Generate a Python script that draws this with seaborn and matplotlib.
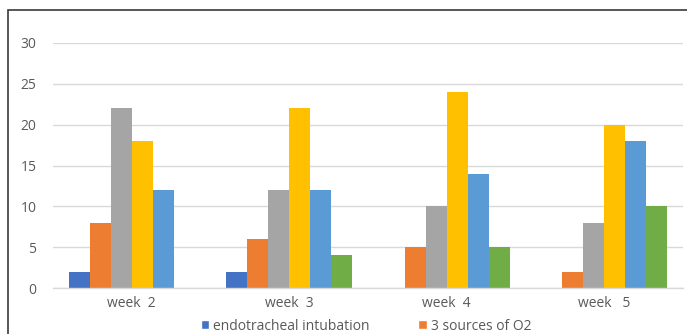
import matplotlib
matplotlib.use("Agg")
import matplotlib.pyplot as plt
import seaborn as sns
import pandas as pd
from matplotlib.patches import Rectangle, Patch

weeks = ["week  2", "week  3", "week  4", "week   5"]
series = ["endotracheal intubation", "3 sources of O2", "series 3", "series 4", "series 5", "series 6"]
endotracheal = [2, 2, 0, 0]
sources_o2 = [8, 6, 5, 2]
series_3 = [22, 12, 10, 8]
series_4 = [18, 22, 24, 20]
series_5 = [12, 12, 14, 18]
series_6 = [0, 4, 5, 10]
colors = ["#4472C4", "#ED7D31", "#A5A5A5", "#FFC000", "#5B9BD5", "#70AD47"]

values = [endotracheal, sources_o2, series_3, series_4, series_5, series_6]
rows = []
for name, vals in zip(series, values):
    for w, v in zip(weeks, vals):
        rows.append({"week": w, "series": name, "value": v})
df = pd.DataFrame(rows)

sns.set_theme(style="white")
plt.rcParams["font.family"] = ["Open Sans", "DejaVu Sans"]

fig = plt.figure(figsize=(6.87, 3.34), dpi=100)
ax = fig.add_axes([53 / 687, 46 / 334, 630 / 687, 245 / 334])

sns.barplot(data=df, x="week", y="value", hue="series", palette=colors,
            order=weeks, hue_order=series, width=0.8, linewidth=0,
            saturation=1, ax=ax, legend=False)

ax.set_ylim(0, 30)
ax.set_yticks(range(0, 31, 5))
ax.set_xlim(-0.5, 3.5)
ax.yaxis.grid(True, color="#D9D9D9", linewidth=1)
ax.set_axisbelow(True)
for s in ["top", "right", "left"]:
    ax.spines[s].set_visible(False)
ax.spines["bottom"].set_color("#D9D9D9")
ax.spines["bottom"].set_linewidth(1)
ax.set_xlabel("")
ax.set_ylabel("")
ax.tick_params(axis="both", length=0, colors="#595959", labelsize=10)
ax.tick_params(axis="y", pad=12)
ax.tick_params(axis="x", pad=6)

handles = [Patch(facecolor=colors[0]), Patch(facecolor=colors[1])]
fig.legend(handles, series[:2], loc="center", bbox_to_anchor=(366 / 687, 8 / 334),
           ncol=2, frameon=False, fontsize=10, handlelength=0.6, handleheight=0.6,
           handletextpad=0.3, columnspacing=3.5, labelcolor="#595959",
           borderpad=0.2)

fig.patches.append(Rectangle((8 / 687, -0.1), 1.2, 0.1 + 324 / 334,
                             transform=fig.transFigure, fill=False,
                             edgecolor="#3a3a3a", linewidth=1.2))

fig.savefig("out.png", dpi=100)
